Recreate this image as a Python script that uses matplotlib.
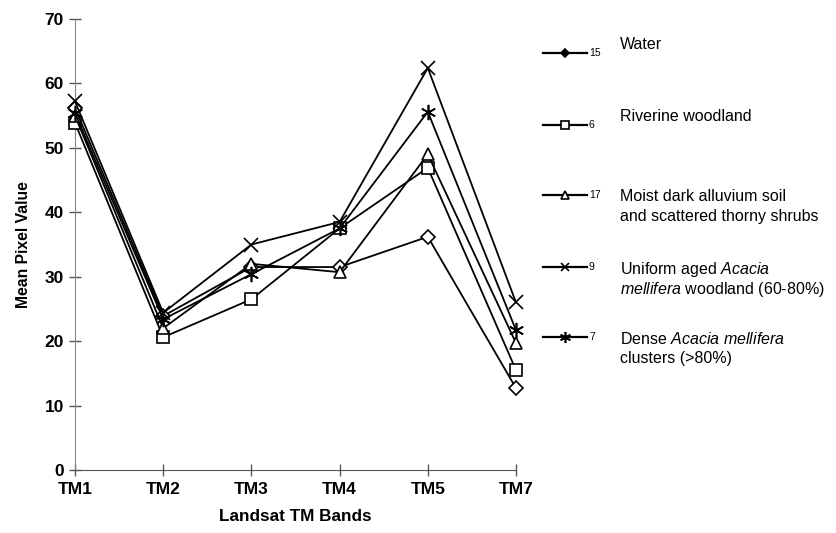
import matplotlib.pyplot as plt
from matplotlib.lines import Line2D

plt.rcParams['font.family'] = 'Liberation Sans'
plt.rcParams['mathtext.fontset'] = 'custom'
plt.rcParams['mathtext.rm'] = 'Liberation Sans'
plt.rcParams['mathtext.it'] = 'Liberation Sans:italic'

bands = ['TM1', 'TM2', 'TM3', 'TM4', 'TM5', 'TM7']

water = [56.2, 23.9, 31.5, 31.5, 36.2, 12.7]
riverine = [53.9, 20.6, 26.5, 37.5, 46.9, 15.5]
moist_soil = [55.0, 22.0, 32.0, 30.7, 49.0, 19.7]
uniform_acacia = [57.2, 24.4, 35.0, 38.5, 62.4, 26.0]
dense_acacia = [55.4, 23.4, 30.4, 37.5, 55.6, 21.7]

series = [water, riverine, moist_soil, uniform_acacia, dense_acacia]
counts = ['15', '6', '17', '9', '7']
# each legend label as a list of text lines
labels = [
    ['Water'],
    ['Riverine woodland'],
    ['Moist dark alluvium soil', 'and scattered thorny shrubs'],
    ['Uniform aged $\\mathit{Acacia}$', '$\\mathit{mellifera}$ woodland (60-80%)'],
    ['Dense $\\mathit{Acacia\\ mellifera}$', 'clusters (>80%)'],
]

# marker style per series: (marker, size, face colour)
markers = [('D', 7, 'white'), ('s', 9, 'white'), ('^', 9, 'white'),
           ('x', 10, 'black'), ((6, 2, 0), 11, 'black')]
legend_markers = [('D', 4, 'black'), ('s', 6, 'white'), ('^', 6, 'white'),
                  ('x', 6, 'black'), ((6, 2, 0), 8, 'black')]

fig = plt.figure(figsize=(8.37, 5.33), dpi=100)
ax = fig.add_axes([75 / 837, 63 / 533, 441 / 837, 451 / 533])

x = list(range(len(bands)))
for vals, (m, ms, fc) in zip(series, markers):
    ax.plot(x, vals, color='black', lw=1.3, marker=m, ms=ms,
            mfc=fc, mec='black', mew=1.2, clip_on=False, zorder=3)

ax.set_xlim(0, 5)
ax.set_ylim(0, 70)
ax.set_xticks(x)
ax.set_xticklabels(bands)
ax.set_yticks(range(0, 71, 10))
for s in ['top', 'right']:
    ax.spines[s].set_visible(False)
ax.spines['left'].set_color('#888888')
ax.spines['bottom'].set_color('#555555')
ax.tick_params(direction='inout', length=8, width=1, colors='#555555',
               labelcolor='black', labelsize=12.5)
for lab in ax.get_xticklabels() + ax.get_yticklabels():
    lab.set_fontweight('bold')
ax.tick_params(axis='x', pad=5)
ax.tick_params(axis='y', pad=4)
ax.set_xlabel('Landsat TM Bands', fontsize=12.3, fontweight='bold', labelpad=8)
ax.set_ylabel('Mean Pixel Value', fontsize=11.3, fontweight='bold', labelpad=10)

# legend drawn in pixel coordinates
lg = fig.add_axes([0, 0, 1, 1], facecolor='none')
lg.set_xlim(0, 837)
lg.set_ylim(533, 0)
lg.axis('off')

line_y = [53, 125, 195, 267, 337]
text_y = [43, 115, 195, 267, 337]
for ly, ty, c, lab, (m, ms, fc) in zip(line_y, text_y, counts, labels, legend_markers):
    lg.add_line(Line2D([543, 587], [ly, ly], color='black', lw=1.6))
    lg.plot([565], [ly], marker=m, ms=ms, mfc=fc, mec='black', mew=1.2,
            color='black')
    lg.text(589, ly, c, fontsize=7.5, va='center', ha='left')
    for i, part in enumerate(lab):
        lg.text(620, ty + 20 * i, part, fontsize=11.5, va='center_baseline',
                ha='left')

fig.savefig('out.png', dpi=100)
